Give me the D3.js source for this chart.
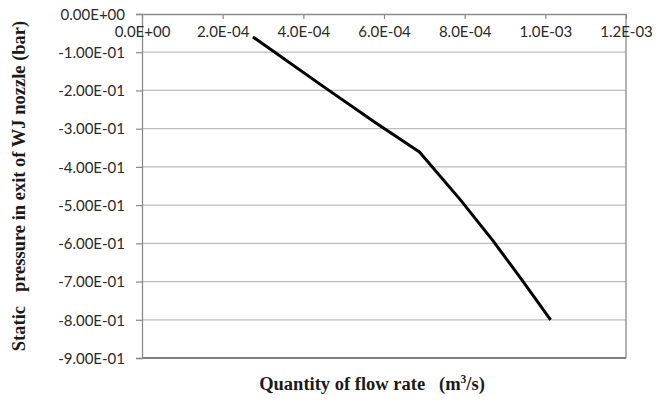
<!DOCTYPE html>
<html>
<head>
<meta charset="utf-8">
<script src="https://cdn.jsdelivr.net/npm/d3@7"></script>
<style>
	body { margin: 0; background: #fff; }
	.tick-label { font-family: Lato, "Open Sans", sans-serif; font-size: 15px; fill: #2a2a2a; }
	.axis-title { font-family: "Liberation Serif", "Times New Roman", serif; font-size: 18.5px; font-weight: bold; fill: #1a1a1a; }
</style>
</head>
<body>
<div id="chart"></div>
<script>
// flow rate (m3/s) vs static pressure (bar)
var flow = [2.75e-4, 4.5e-4, 5.8e-4, 6.88e-4, 7.9e-4, 8.7e-4, 9.45e-4, 1.013e-3];
var pressure = [-0.060, -0.19, -0.285, -0.361, -0.487, -0.593, -0.70, -0.80];

var xTicks = [0, 2e-4, 4e-4, 6e-4, 8e-4, 1e-3, 1.2e-3];
var xTickLabels = ["0.0E+00", "2.0E-04", "4.0E-04", "6.0E-04", "8.0E-04", "1.0E-03", "1.2E-03"];
var yTicks = [0, -0.1, -0.2, -0.3, -0.4, -0.5, -0.6, -0.7, -0.8, -0.9];
var yTickLabels = ["0.00E+00", "-1.00E-01", "-2.00E-01", "-3.00E-01", "-4.00E-01", "-5.00E-01",
	"-6.00E-01", "-7.00E-01", "-8.00E-01", "-9.00E-01"];

var data = flow.map(function(f, i) { return {flow: f, p: pressure[i]}; });

var margin = {top: 14, right: 31, bottom: 42, left: 142},
	width = 657 - margin.left - margin.right,
	height = 400 - margin.top - margin.bottom;

var x = d3.scaleLinear().domain([0, 1.2e-3]).range([0, width]),
	y = d3.scaleLinear().domain([0, -0.9]).range([0, height]);

var svg = d3.select("#chart")
	.append("svg")
	.attr("width", 657)
	.attr("height", 400);

var g = svg.append("g")
	.attr("transform", "translate(" + margin.left + "," + margin.top + ")");

// gridlines
g.selectAll(".grid")
	.data(yTicks.slice(1, -1))
	.enter().append("line")
	.attr("x1", 0)
	.attr("x2", width)
	.attr("y1", function(d) { return y(d); })
	.attr("y2", function(d) { return y(d); })
	.attr("stroke", "#bdbdbd")
	.attr("stroke-width", 1.3);

// right border
g.append("line")
	.attr("x1", width).attr("x2", width)
	.attr("y1", 0).attr("y2", height)
	.attr("stroke", "#8a8a8a")
	.attr("stroke-width", 1.3);

// bottom border
g.append("line")
	.attr("x1", 0).attr("x2", width)
	.attr("y1", height).attr("y2", height)
	.attr("stroke", "#555")
	.attr("stroke-width", 1.6);

// y axis (left)
var yAxis = d3.axisLeft(y)
	.tickValues(yTicks)
	.tickSize(6)
	.tickFormat(function(d, i) { return yTickLabels[i]; });

var yG = g.append("g").call(yAxis);
yG.select(".domain").attr("stroke", "#8a8a8a").attr("stroke-width", 1.3);
yG.selectAll(".tick line").attr("stroke", "#8a8a8a").attr("stroke-width", 1.2);
yG.selectAll(".tick text")
	.attr("class", "tick-label")
	.attr("x", -17)
	.attr("dy", "0.35em");

// x axis sits at y = 0 (top), labels just under it
var xAxis = d3.axisBottom(x)
	.tickValues(xTicks)
	.tickSize(5)
	.tickSizeOuter(0)
	.tickFormat(function(d, i) { return xTickLabels[i]; });

var xG = g.append("g").attr("transform", "translate(0," + y(0) + ")").call(xAxis);
xG.select(".domain").attr("stroke", "#8a8a8a").attr("stroke-width", 1.3);
xG.selectAll(".tick line").attr("stroke", "#8a8a8a").attr("stroke-width", 1.2);
xG.selectAll(".tick text")
	.attr("class", "tick-label")
	.attr("y", 18)
	.attr("dy", "0.35em");

// the curve
var line = d3.line()
	.x(function(d) { return x(d.flow); })
	.y(function(d) { return y(d.p); });

g.append("path")
	.datum(data)
	.attr("fill", "none")
	.attr("stroke", "#000")
	.attr("stroke-width", 3)
	.attr("stroke-linejoin", "round")
	.attr("d", line);

// axis titles
var xt = svg.append("text")
	.attr("class", "axis-title")
	.attr("x", 372)
	.attr("y", 390)
	.attr("text-anchor", "middle")
	.attr("xml:space", "preserve");
xt.append("tspan").text("Quantity of flow rate   (m");
xt.append("tspan").attr("font-size", "11.5px").attr("dy", -7).text("3");
xt.append("tspan").attr("dy", 7).text("/s)");

svg.append("text")
	.attr("class", "axis-title")
	.attr("transform", "translate(25,186) rotate(-90)")
	.attr("text-anchor", "middle")
	.attr("xml:space", "preserve")
	.text("Static   pressure in exit of WJ nozzle (bar)");
</script>
</body>
</html>
